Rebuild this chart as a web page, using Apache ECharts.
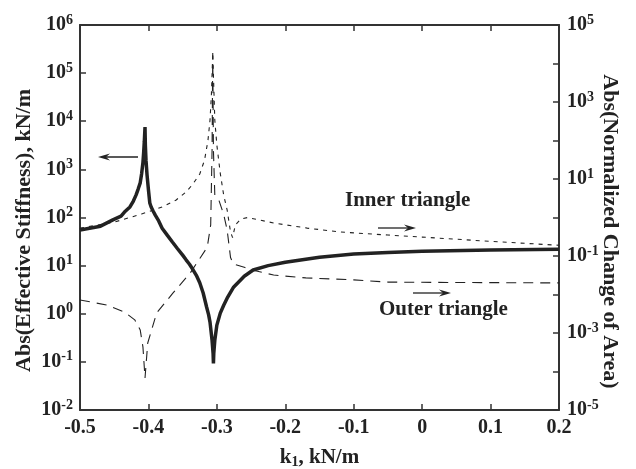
<!DOCTYPE html>
<html>
<head>
<meta charset="utf-8">
<script src="https://cdn.jsdelivr.net/npm/echarts@6/dist/echarts.min.js"></script>
<style>
html, body { margin: 0; padding: 0; background: #fff; }
#chart { width: 636px; height: 469px; }
</style>
</head>
<body>
<div id="chart"></div>
<script>
// axis ticks
var xTicks = [-0.5, -0.4, -0.3, -0.2, -0.1, 0, 0.1, 0.2];
var leftPowers = [-2, -1, 0, 1, 2, 3, 4, 5, 6];
var rightPowers = [-5, -4, -3, -2, -1, 0, 1, 2, 3, 4, 5];

// effective stiffness (left axis)
var kStiff = [-0.5, -0.47, -0.452, -0.44, -0.435, -0.427, -0.422, -0.418, -0.415, -0.412,
  -0.41, -0.408, -0.407, -0.406, -0.405, -0.4045, -0.4035, -0.402, -0.4, -0.398,
  -0.396, -0.393, -0.39, -0.385, -0.38, -0.372, -0.365, -0.358, -0.35, -0.345,
  -0.34, -0.335, -0.33, -0.325, -0.32, -0.315, -0.312, -0.31, -0.307, -0.3055,
  -0.305, -0.3045, -0.303, -0.3, -0.295, -0.29, -0.285, -0.276, -0.26, -0.247,
  -0.225, -0.2, -0.15, -0.1, -0.05, 0, 0.1, 0.2];
var stiffness = [55, 66, 89, 107, 130, 166, 220, 295, 390, 525,
  800, 1400, 2200, 3800, 7600, 3200, 1500, 760, 380, 200,
  165, 135, 112, 85, 60, 42, 31, 23, 16.5, 13.2,
  10.7, 8.3, 6.3, 4.4, 2.7, 1.38, 0.95, 0.67, 0.28, 0.15,
  0.093, 0.15, 0.28, 0.58, 1.03, 1.5, 2.1, 3.5, 6.0, 8.1,
  10, 11.8, 15, 17.4, 18.8, 20, 21, 22];

// inner triangle (right axis)
var kInner = [-0.5, -0.45, -0.41, -0.38, -0.36, -0.345, -0.335, -0.325, -0.318, -0.313,
  -0.31, -0.308, -0.306, -0.303, -0.3, -0.295, -0.29, -0.285, -0.28, -0.277, -0.273,
  -0.265, -0.255, -0.217, -0.168, -0.12, -0.05, 0, 0.1, 0.2];
var innerArea = [0.53, 0.76, 1.23, 1.87, 2.8, 4.6, 7.4, 13.5, 31, 100,
  340, 1500, 18700, 340, 76, 14, 3.8, 1.57, 0.42, 0.3, 0.64,
  0.91, 1.0, 0.72, 0.53, 0.42, 0.35, 0.31, 0.24, 0.19];

// outer triangle (right axis)
var kOuter = [-0.5, -0.46, -0.435, -0.42, -0.412, -0.408, -0.405, -0.401, -0.388, -0.364,
  -0.339, -0.314, -0.309, -0.307, -0.306, -0.305, -0.303, -0.297, -0.29, -0.285, -0.28,
  -0.276, -0.26, -0.25, -0.217, -0.17, -0.1, -0.05, 0.05, 0.2];
var outerArea = [0.0072, 0.0053, 0.0035, 0.0022, 0.0012, 0.00043, 0.000068, 0.00055, 0.0033, 0.011,
  0.036, 0.17, 0.64, 56, 18700, 56, 3.8, 2.8, 1.2, 0.48, 0.091,
  0.062, 0.051, 0.044, 0.032, 0.027, 0.024, 0.021, 0.0205, 0.020];

function pairs(xs, ys) {
  var out = [];
  for (var i = 0; i < xs.length; i++) out.push([xs[i], ys[i]]);
  return out;
}

var FONT = "'Liberation Serif', 'DejaVu Serif', serif";
var INK = '#222';

function expOf(v) {
  return Math.round(Math.log(v) / Math.LN10);
}
var powRich = {
  b: { fontSize: 20, fontWeight: 'bold', fontFamily: FONT, color: INK },
  s: { fontSize: 14, fontWeight: 'bold', fontFamily: FONT, color: INK, padding: [0, 0, 10, 0] }
};

function arrow(x1, y1, x2, y2) {
  var dir = x2 > x1 ? 1 : -1;
  return {
    type: 'group',
    children: [
      { type: 'line', shape: { x1: x1, y1: y1, x2: x2 - dir * 6, y2: y2 },
        style: { stroke: INK, lineWidth: 1.3 } },
      { type: 'polygon', shape: { points: [[x2, y2], [x2 - dir * 12, y2 - 3.5], [x2 - dir * 8, y2], [x2 - dir * 12, y2 + 3.5]] },
        style: { fill: INK } }
    ]
  };
}

var chart = echarts.init(document.getElementById('chart'));
var axisLine = { show: true, onZero: false, lineStyle: { color: '#333', width: 2 } };
var tick = { show: true, inside: true, length: 6, lineStyle: { color: '#333', width: 1.5 } };

var option = {
  animation: false,
  backgroundColor: '#fff',
  grid: { left: 80, right: 77, top: 25, bottom: 59, outerBoundsMode: 'none', containLabel: false },
  xAxis: [{
    type: 'value', min: xTicks[0], max: xTicks[xTicks.length - 1], interval: 0.1,
    position: 'bottom',
    axisLine: axisLine, axisTick: tick, splitLine: { show: false },
    axisLabel: { fontSize: 20, fontWeight: 'bold', fontFamily: FONT, color: INK, margin: 8,
      formatter: function (v) { return v === 0 ? '0' : String(Math.round(v * 10) / 10); } },
    name: '{a|k}{sub|1}{a|, kN/m}', nameLocation: 'middle', nameGap: 36, nameMoveOverlap: false,
    nameTextStyle: { rich: {
      a: { fontSize: 21, fontWeight: 'bold', fontFamily: FONT, color: INK },
      sub: { fontSize: 14, fontWeight: 'bold', fontFamily: FONT, color: INK, padding: [9, 0, 0, 0] }
    } }
  }, {
    type: 'value', min: xTicks[0], max: xTicks[xTicks.length - 1], interval: 0.1,
    position: 'top',
    axisLine: axisLine, axisTick: tick, splitLine: { show: false },
    axisLabel: { show: false }
  }],
  yAxis: [{
    type: 'log', logBase: 10,
    min: Math.pow(10, leftPowers[0]), max: Math.pow(10, leftPowers[leftPowers.length - 1]),
    interval: 1, splitNumber: leftPowers.length - 1,
    position: 'left',
    axisLine: axisLine, axisTick: tick, splitLine: { show: false },
    axisLabel: { rich: powRich, margin: 7,
      formatter: function (v) { return '{b|10}{s|' + expOf(v) + '}'; } },
    name: 'Abs(Effective Stiffness), kN/m', nameLocation: 'middle', nameGap: 45, nameRotate: 90,
    nameMoveOverlap: false,
    nameTextStyle: { fontSize: 22, fontWeight: 'bold', fontFamily: FONT, color: INK, padding: [0, 26, 0, 0] }
  }, {
    type: 'log', logBase: 10,
    min: Math.pow(10, rightPowers[0]), max: Math.pow(10, rightPowers[rightPowers.length - 1]),
    interval: 1, splitNumber: rightPowers.length - 1,
    position: 'right',
    axisLine: axisLine, axisTick: tick, splitLine: { show: false },
    axisLabel: { rich: powRich, margin: 8,
      formatter: function (v) {
        var e = expOf(v);
        return Math.abs(e) % 2 === 1 ? '{b|10}{s|' + e + '}' : '';
      } },
    name: 'Abs(Normalized Change of Area)', nameLocation: 'middle', nameGap: 40, nameRotate: -90,
    nameMoveOverlap: false,
    nameTextStyle: { fontSize: 22, fontWeight: 'bold', fontFamily: FONT, color: INK, padding: [0, 0, 0, 28] }
  }],
  series: [{
    name: 'Inner triangle', type: 'line', yAxisIndex: 1, showSymbol: false,
    data: pairs(kInner, innerArea),
    lineStyle: { color: INK, width: 1.1, type: [4, 5] }
  }, {
    name: 'Outer triangle', type: 'line', yAxisIndex: 1, showSymbol: false,
    data: pairs(kOuter, outerArea),
    lineStyle: { color: INK, width: 1.1, type: [10, 7] }
  }, {
    name: 'Effective stiffness', type: 'line', yAxisIndex: 0, showSymbol: false,
    data: pairs(kStiff, stiffness),
    lineStyle: { color: INK, width: 3.5 }
  }],
  graphic: [
    arrow(138, 157, 98, 157),
    { type: 'text', left: 345, top: 190,
      style: { text: 'Inner triangle', fontSize: 21, fontWeight: 'bold', fontFamily: FONT, fill: INK } },
    arrow(378, 228, 416, 228),
    arrow(413, 293, 451, 293),
    { type: 'text', left: 379, top: 299,
      style: { text: 'Outer triangle', fontSize: 21, fontWeight: 'bold', fontFamily: FONT, fill: INK } }
  ]
};
chart.setOption(option);
</script>
</body>
</html>
